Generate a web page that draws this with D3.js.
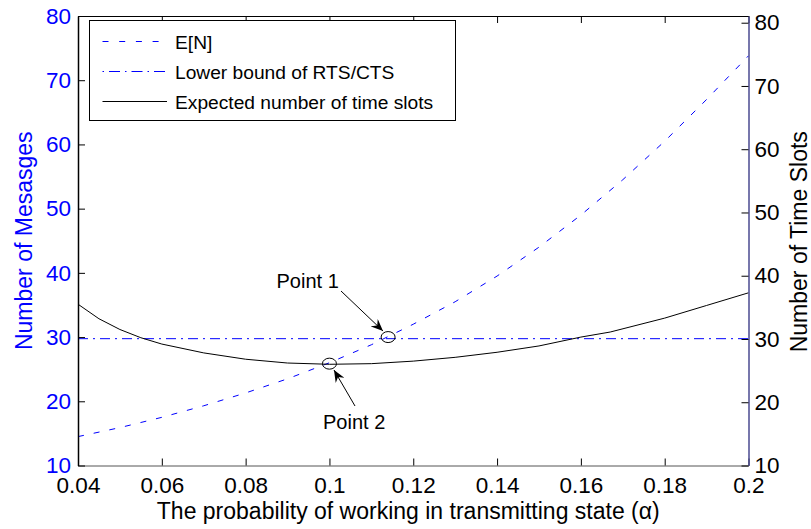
<!DOCTYPE html>
<html><head><meta charset="utf-8">
<script src="https://cdn.jsdelivr.net/npm/d3@7"></script>
<style>
body{margin:0;background:#fff;}
text{font-family:Arial,"Liberation Sans",sans-serif;}
</style></head>
<body><svg id="c" width="811" height="529"></svg>
<script>
const alphaEN = [0.04,0.05,0.06,0.07,0.08,0.09,0.10,0.11,0.12,0.13,0.14,0.15,0.16,0.17,0.18,0.19,0.20];
const valuesEN = [14.5,15.9,17.5,19.3,21.3,23.5,26.0,28.8,32.0,35.5,39.5,44.0,49.0,54.5,60.5,67.0,73.8];
const alphaSlots = [0.04,0.045,0.05,0.055,0.06,0.07,0.08,0.09,0.10,0.11,0.12,0.13,0.14,0.15,0.16,0.167,0.18,0.19,0.20];
const valuesSlots = [35.5,33.2,31.5,30.2,29.2,27.8,26.8,26.2,26.0,26.1,26.5,27.1,27.9,28.9,30.3,31.1,33.3,35.3,37.3];
const lowerBound = 29.75;
const xTicks = [0.04,0.06,0.08,0.1,0.12,0.14,0.16,0.18,0.2];
const yLeftTicks = [10,20,30,40,50,60,70,80];
const yRightTicks = [10,20,30,40,50,60,70,80];
const legendLabels = ["E[N]","Lower bound of RTS/CTS","Expected number of time slots"];
const annotations = [{label:"Point 1", a:0.114, v:30.0, axis:"left"},{label:"Point 2", a:0.1, v:26.1, axis:"right"}];

const svg = d3.select("#c");
const L=78, R=748.5, T=16, B=465.5;
const x = d3.scaleLinear().domain([0.04,0.2]).range([L,R]);
const yL = d3.scaleLinear().domain([10,80]).range([B,T]);
const yR = d3.scaleLinear().domain([10,81.06]).range([B,T]);
const blue="#0000ff";
const fs=22.5;

// lines
const lineEN = d3.line().x((d,i)=>x(alphaEN[i])).y(d=>yL(d));
svg.append("path").attr("d",lineEN(valuesEN)).attr("fill","none").attr("stroke",blue).attr("stroke-width",1).attr("stroke-dasharray","6,10");
svg.append("line").attr("x1",L).attr("x2",R).attr("y1",yL(lowerBound)).attr("y2",yL(lowerBound))
  .attr("stroke",blue).attr("stroke-width",1).attr("stroke-dasharray","10,5,2,5");
const lineS = d3.line().x((d,i)=>x(alphaSlots[i])).y(d=>yR(d));
svg.append("path").attr("d",lineS(valuesSlots)).attr("fill","none").attr("stroke","#000").attr("stroke-width",1);

// axes
const gB = svg.append("g").attr("transform",`translate(0,${B})`).call(d3.axisBottom(x).tickValues(xTicks).tickSizeInner(-7).tickSizeOuter(0).tickPadding(12).tickFormat(d=>d3.format("")(+d.toFixed(2))));
const gT = svg.append("g").attr("transform",`translate(0,${T})`).call(d3.axisTop(x).tickValues(xTicks).tickSizeInner(-7).tickSizeOuter(0).tickFormat(""));
const gL = svg.append("g").attr("transform",`translate(${L},0)`).call(d3.axisLeft(yL).tickValues(yLeftTicks).tickSizeInner(-7).tickSizeOuter(0).tickPadding(7));
const gR = svg.append("g").attr("transform",`translate(${R},0)`).call(d3.axisRight(yR).tickValues(yRightTicks).tickSizeInner(-7).tickSizeOuter(0).tickPadding(6));
[gB,gT,gL,gR].forEach(g=>{g.selectAll("text").attr("font-size",fs).attr("font-family","Arial, 'Liberation Sans', sans-serif");g.selectAll(".tick line").attr("stroke","#000");});
gB.selectAll("text").attr("fill","#000");
gL.selectAll("text").attr("fill",blue);
gR.selectAll("text").attr("fill","#000");
gB.select(".domain").attr("stroke","#555");
gT.select(".domain").attr("stroke","#000");
gL.select(".domain").attr("stroke","#000").attr("stroke-width",1.5);
gR.select(".domain").attr("stroke","#4a4a90").attr("stroke-width",1.5);

// axis labels
svg.append("text").attr("x",(L+R)/2-5).attr("y",519).attr("text-anchor","middle").attr("font-size",23).text("The probability of working in transmitting state (α)");
svg.append("text").attr("transform",`translate(32,${(T+B)/2}) rotate(-90)`).attr("text-anchor","middle").attr("font-size",23).attr("fill",blue).text("Number of Mesasges");
svg.append("text").attr("transform",`translate(807,${(T+B)/2+1}) rotate(-90)`).attr("text-anchor","middle").attr("font-size",23).attr("fill","#000").text("Number of Time Slots");

// legend
const lg = svg.append("g");
lg.append("rect").attr("x",89.5).attr("y",20.5).attr("width",366).attr("height",100).attr("fill","#fff").attr("stroke","#000").attr("stroke-width",1);
const dashes=["6,10.7","1.5,5,11,5",null];
const cols=[blue,blue,"#000"];
legendLabels.forEach((t,i)=>{
  const yy=41.5+i*30;
  const ln=lg.append("line").attr("x1",102.5).attr("x2",167).attr("y1",yy).attr("y2",yy).attr("stroke",cols[i]).attr("stroke-width",1);
  if(dashes[i]) ln.attr("stroke-dasharray",dashes[i]);
  lg.append("text").attr("x",175).attr("y",yy+7).attr("font-size",19.2).text(t);
});

// annotations
svg.append("defs").append("marker").attr("id","ah").attr("viewBox","0 0 12 10").attr("refX",12).attr("refY",5)
  .attr("markerWidth",12).attr("markerHeight",10).attr("markerUnits","userSpaceOnUse").attr("orient","auto")
  .append("path").attr("d","M0,0 L12,5 L0,10 L4,5 Z").attr("fill","#000");
const ann=[
  {cx:x(annotations[0].a), cy:yL(annotations[0].v), tx:276.5, ty:288, x1:341, y1:291, x2:383, y2:331},
  {cx:x(annotations[1].a), cy:yR(annotations[1].v), tx:323, ty:429, x1:355, y1:406, x2:334, y2:370}
];
ann.forEach((a,i)=>{
  svg.append("ellipse").attr("cx",a.cx).attr("cy",a.cy).attr("rx",7).attr("ry",5.5).attr("fill","none").attr("stroke","#000").attr("stroke-width",1);
  svg.append("line").attr("x1",a.x1).attr("y1",a.y1).attr("x2",a.x2).attr("y2",a.y2).attr("stroke","#000").attr("stroke-width",1).attr("marker-end","url(#ah)");
  svg.append("text").attr("x",a.tx).attr("y",a.ty).attr("font-size",20).text(annotations[i].label);
});
</script></body></html>
